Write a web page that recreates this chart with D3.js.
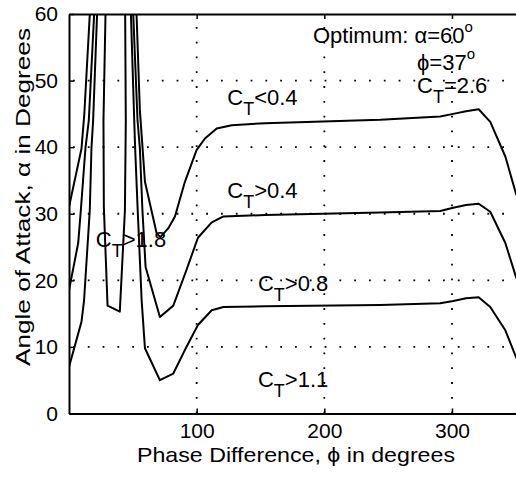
<!DOCTYPE html>
<html><head><meta charset="utf-8">
<script src="https://cdn.jsdelivr.net/npm/d3@7"></script>
<style>body{margin:0;background:#fff}svg{display:block}text{font-family:"Liberation Sans",Arial,Helvetica,sans-serif;fill:#000}</style>
</head><body>
<script>
// ---- data (phase difference phi [deg], angle of attack alpha [deg]) ----
const ct04Left  = [[0,31],[9.8,39.8],[12,45],[16.3,60]];
const ct08Left  = [[0,18.5],[7.2,25.6],[9.3,30.6],[12.9,39.9],[15.5,44],[19.7,60]];
const ct11Left  = [[0,7],[9.8,13.8],[11.8,17],[16.3,30.6],[17.6,39.9],[18.9,44],[22,60]];
const ct18Loop  = [[28.6,60],[27,44],[27.3,31],[30.2,16.2],[39.8,15.3],[43.8,30.5],[44.5,44],[44,60]];
const ct11Right = [[48.5,60],[51.1,44],[51.8,39.9],[53.8,30.6],[56.9,17],[59.5,9.8],[71.2,5.0],[81.7,6.0],[92,10],[101,13.3],[111.8,15.5],[121,16.0],[153.6,16.1],[243.8,16.3],[290.8,16.55],[301,16.9],[311,17.3],[320.9,17.45],[330,16.0],[341.8,12.5],[350.5,8.3]];
const ct08Right = [[50.3,60],[53.7,44],[55.5,39.9],[57.5,30.6],[60,22],[71.2,14.5],[81.7,16.2],[92,21.55],[101,26.4],[111.8,28.7],[121,29.6],[153.6,29.8],[243.8,30.2],[290.8,30.4],[301,30.9],[311,31.3],[320.9,31.5],[330,30.3],[341.8,25.6],[350.5,20.3]];
const ct04Right = [[52.9,60],[55.5,45.6],[59.5,34.8],[68.6,27.1],[71.5,26.5],[77.7,27.8],[83,29.6],[90.8,34.8],[100,39.6],[106.5,41.3],[115.7,42.8],[127.5,43.3],[153.6,43.6],[243.8,44.1],[290.8,44.6],[301,45.0],[311,45.4],[320.9,45.7],[330,43.8],[341.8,38.6],[350.5,32.8]];
const contourLines = [ct04Left, ct08Left, ct11Left, ct18Loop, ct11Right, ct08Right, ct04Right];

const xTicks = [100, 200, 300];
const yTicks = [0, 10, 20, 30, 40, 50, 60];
const regionLabels = [
  {phi: 124, alpha: 46.3, op: "<", val: "0.4"},
  {phi: 124, alpha: 32.3, op: ">", val: "0.4"},
  {phi: 21,  alpha: 25.0, op: ">", val: "1.8"},
  {phi: 148, alpha: 18.4, op: ">", val: "0.8"},
  {phi: 148, alpha: 4.0,  op: ">", val: "1.1"}
];
const optimum = {alpha: "60", phi: "37", ct: "2.6"};

// ---- layout ----
const W = 516, H = 482;
const x = d3.scaleLinear().domain([0, 350]).range([69, 515.8]);
const y = d3.scaleLinear().domain([0, 60]).range([413.5, 14]);

const svg = d3.select("body").append("svg").attr("width", W).attr("height", H);
svg.append("defs").append("clipPath").attr("id", "plotclip")
  .append("rect").attr("x", x(0)).attr("y", y(60)).attr("width", W - x(0)).attr("height", y(0) - y(60));

// grid (dotted)
const grid = svg.append("g");
grid.selectAll("line.gx").data(xTicks).join("line").attr("class", "gx")
  .attr("x1", d => x(d)).attr("x2", d => x(d)).attr("y1", y(0)).attr("y2", y(60));
grid.selectAll("line.gy").data(yTicks.filter(d => d > 0 && d < 60)).join("line").attr("class", "gy")
  .attr("x1", x(0) + 4).attr("x2", W).attr("y1", d => y(d)).attr("y2", d => y(d));
grid.selectAll("line").attr("stroke", "#000").attr("stroke-width", 1.8).attr("stroke-dasharray", "1.8,13");

// axes
const xAxisB = d3.axisBottom(x).tickValues(xTicks).tickSize(-5).tickPadding(10).tickSizeOuter(0);
svg.append("g").attr("transform", `translate(0,${y(0)})`).call(xAxisB);
const xAxisT = d3.axisTop(x).tickValues(xTicks).tickSize(-5).tickFormat("").tickSizeOuter(0);
svg.append("g").attr("transform", `translate(0,${y(60)})`).call(xAxisT);
const yAxisL = d3.axisLeft(y).tickValues(yTicks).tickSize(-5).tickPadding(11).tickSizeOuter(0);
svg.append("g").attr("transform", `translate(${x(0)},0)`).call(yAxisL);
svg.selectAll(".domain").attr("stroke", "#000").attr("stroke-width", 2);
svg.selectAll(".tick line").attr("stroke", "#000").attr("stroke-width", 1.5);
svg.selectAll(".tick text").attr("font-size", 21).attr("font-family", '"Liberation Sans",Arial,sans-serif').attr("fill", "#000");
svg.append("line").attr("x1", x(350)).attr("x2", W).attr("y1", y(0)).attr("y2", y(0)).attr("stroke", "#000").attr("stroke-width", 2);

// curves
const line = d3.line().x(d => x(d[0])).y(d => y(d[1]));
svg.append("g").attr("clip-path", "url(#plotclip)")
  .selectAll("path").data(contourLines).join("path")
  .attr("d", line).attr("fill", "none").attr("stroke", "#000").attr("stroke-width", 2).attr("stroke-linejoin", "round");

// region labels C_T ...
const lab = svg.append("g");
regionLabels.forEach(l => {
  const t = lab.append("text").attr("x", x(l.phi)).attr("y", y(l.alpha)).attr("font-size", 22);
  t.append("tspan").text("C");
  t.append("tspan").attr("font-size", 18).attr("dy", 10).text("T");
  t.append("tspan").attr("dy", -10).text(l.op + l.val);
});

// optimum annotation
const ann = svg.append("g").attr("font-size", 22);
const t1 = ann.append("text").attr("x", 313).attr("y", 43);
t1.append("tspan").text("Optimum: α=" + optimum.alpha);
t1.append("tspan").attr("font-size", 15).attr("dy", -11).text("o");
const t2 = ann.append("text").attr("x", 417).attr("y", 70);
t2.append("tspan").text("ϕ=" + optimum.phi);
t2.append("tspan").attr("font-size", 15).attr("dy", -11).text("o");
const t3 = ann.append("text").attr("x", 417).attr("y", 93);
t3.append("tspan").text("C");
t3.append("tspan").attr("font-size", 18).attr("dy", 10).text("T");
t3.append("tspan").attr("dy", -10).text("=" + optimum.ct);

// axis titles
svg.append("text").attr("x", 296).attr("y", 462).attr("text-anchor", "middle").attr("font-size", 21)
  .attr("textLength", 318).attr("lengthAdjust", "spacingAndGlyphs")
  .text("Phase Difference, ϕ in degrees");
svg.append("text").attr("transform", "translate(30,197) rotate(-90)").attr("text-anchor", "middle").attr("font-size", 21)
  .attr("textLength", 338).attr("lengthAdjust", "spacingAndGlyphs")
  .text("Angle of Attack, α in Degrees");
</script>
</body></html>
